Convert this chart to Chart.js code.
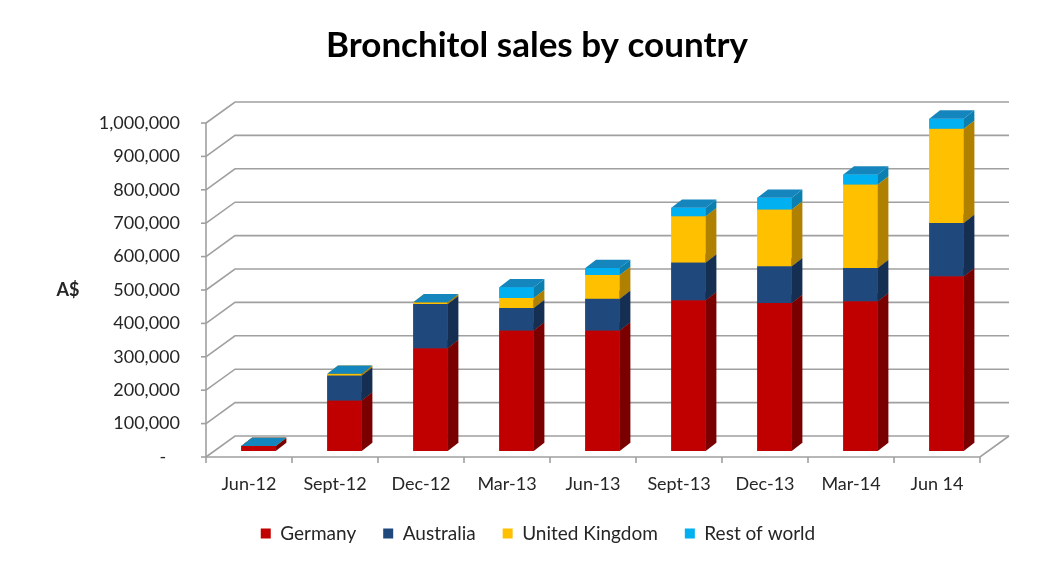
<!DOCTYPE html>
<html>
<head>
<meta charset="utf-8">
<script src="https://cdn.jsdelivr.net/npm/chart.js@4"></script>
<style>
  html, body { margin: 0; padding: 0; background: #fff; }
  #wrap { width: 1044px; height: 563px; }
</style>
</head>
<body>
<div id="wrap"><canvas id="chartSales"></canvas></div>
<script>
const categories = ["Jun-12", "Sept-12", "Dec-12", "Mar-13", "Jun-13", "Sept-13", "Dec-13", "Mar-14", "Jun 14"];
const germany = [15000, 151000, 308000, 361000, 361000, 451000, 443000, 448000, 523000];
const australia = [0, 75000, 132000, 67000, 95000, 113000, 110000, 100000, 160000];
const unitedKingdom = [0, 5000, 5000, 30000, 71000, 139000, 170000, 250000, 282000];
const restOfWorld = [0, 0, 0, 32000, 21000, 25000, 35000, 30000, 30000];
const yTicks = [0, 100000, 200000, 300000, 400000, 500000, 600000, 700000, 800000, 900000, 1000000];

const frontColors = ["#c00000", "#1f497d", "#ffc000", "#00b0f0"];
const sideColors = ["#7a0000", "#142f52", "#b08000", "#0a7fb0"];
const topColors = ["#a30000", "#1a3e6b", "#e0a800", "#1485bd"];

// 3D offsets relative to the plane the bar fronts sit in
const depth = { dx: 10.7, dy: 8.3 };
const front = { dx: -9.5, dy: 6 };
const back = { dx: 19.5, dy: -15 };

function poly(ctx, pts, color) {
  ctx.beginPath();
  ctx.moveTo(pts[0][0], pts[0][1]);
  for (let i = 1; i < pts.length; i++) ctx.lineTo(pts[i][0], pts[i][1]);
  ctx.closePath();
  ctx.fillStyle = color;
  ctx.fill();
}

const walls3d = {
  id: "walls3d",
  beforeDatasetsDraw(chart) {
    const { ctx, chartArea, scales } = chart;
    const y = scales.y;
    const fl = chartArea.left + front.dx, fr = chartArea.right + front.dx;
    const bl = chartArea.left + back.dx, br = chartArea.right + back.dx;
    ctx.save();
    ctx.strokeStyle = "#a0a0a0";
    ctx.lineWidth = 1.6;
    yTicks.forEach(v => {
      const py = y.getPixelForValue(v);
      ctx.beginPath();
      ctx.moveTo(fl, py + front.dy);
      ctx.lineTo(bl, py + back.dy);
      ctx.lineTo(br, py + back.dy);
      ctx.stroke();
      ctx.beginPath();
      ctx.moveTo(fl - 5, py + front.dy);
      ctx.lineTo(fl, py + front.dy);
      ctx.stroke();
    });
    const y0 = y.getPixelForValue(0), y1 = y.getPixelForValue(1000000);
    ctx.beginPath();
    ctx.moveTo(fl, y1 + front.dy);
    ctx.lineTo(fl, y0 + front.dy);
    ctx.lineTo(fr, y0 + front.dy);
    ctx.lineTo(br, y0 + back.dy);
    ctx.stroke();
    const x = scales.x;
    for (let i = 0; i <= categories.length; i++) {
      const px = x.left + (x.width / categories.length) * i + front.dx;
      ctx.beginPath();
      ctx.moveTo(px, y0 + front.dy);
      ctx.lineTo(px, y0 + front.dy + 6);
      ctx.stroke();
    }
    ctx.fillStyle = "#262626";
    ctx.font = "bold 18px Lato";
    ctx.textAlign = "center";
    ctx.textBaseline = "middle";
    ctx.fillText("A$", 68, y.getPixelForValue(500000) + front.dy);
    ctx.fillStyle = "#000";
    ctx.font = "bold 35px Lato";
    ctx.fillText("Bronchitol sales by country", 537, 46);
    ctx.restore();
  },
  // Chart.js paints datasets last-first; repaint bottom-up so the stacked boxes overlap correctly
  afterDatasetsDraw(chart) {
    const { ctx } = chart;
    ctx.save();
    chart.data.datasets.forEach((ds, i) => {
      chart.getDatasetMeta(i).data.forEach(bar => {
        bar.draw(ctx);
        const p = bar.getProps(["x", "y", "base", "width"], true);
        const l = p.x - p.width / 2, r = p.x + p.width / 2;
        const t = Math.min(p.y, p.base), b = Math.max(p.y, p.base);
        poly(ctx, [[r, t], [r + depth.dx, t - depth.dy], [r + depth.dx, b - depth.dy], [r, b]], sideColors[i]);
        poly(ctx, [[l, t], [r, t], [r + depth.dx, t - depth.dy], [l + depth.dx, t - depth.dy]], topColors[i]);
      });
    });
    ctx.restore();
  }
};

Chart.defaults.font.family = "Lato";
Chart.defaults.color = "#262626";

const series = [
  ["Germany", germany],
  ["Australia", australia],
  ["United Kingdom", unitedKingdom],
  ["Rest of world", restOfWorld]
];

new Chart(document.getElementById("chartSales"), {
  type: "bar",
  data: {
    labels: categories,
    datasets: series.map(([label, data], i) => ({
      label,
      data,
      backgroundColor: frontColors[i],
      borderWidth: 0,
      barPercentage: 0.4,
      categoryPercentage: 1
    }))
  },
  options: {
    responsive: true,
    maintainAspectRatio: false,
    animation: false,
    events: [],
    layout: { padding: { top: 117, left: 86.5, right: 54.5, bottom: 10 } },
    plugins: {
      title: { display: false },
      legend: {
        position: "bottom",
        labels: { boxWidth: 10, boxHeight: 10, padding: 27, font: { size: 19 } }
      },
      tooltip: { enabled: false }
    },
    scales: {
      x: {
        stacked: true,
        grid: { display: false, drawTicks: false },
        border: { display: false },
        ticks: { labelOffset: front.dx, padding: 22, font: { size: 18 }, maxRotation: 0 },
        afterFit: s => { s.height = 46; }
      },
      y: {
        stacked: true,
        min: 0,
        max: 1000000,
        grid: { display: false, drawTicks: false },
        border: { display: false },
        ticks: {
          stepSize: 100000,
          labelOffset: front.dy,
          padding: 35.5,
          font: { size: 18 },
          callback: v => v === 0 ? "-   " : v.toLocaleString("en-US")
        },
        afterFit: s => { s.width = 129; }
      }
    }
  },
  plugins: [walls3d]
});
</script>
</body>
</html>
